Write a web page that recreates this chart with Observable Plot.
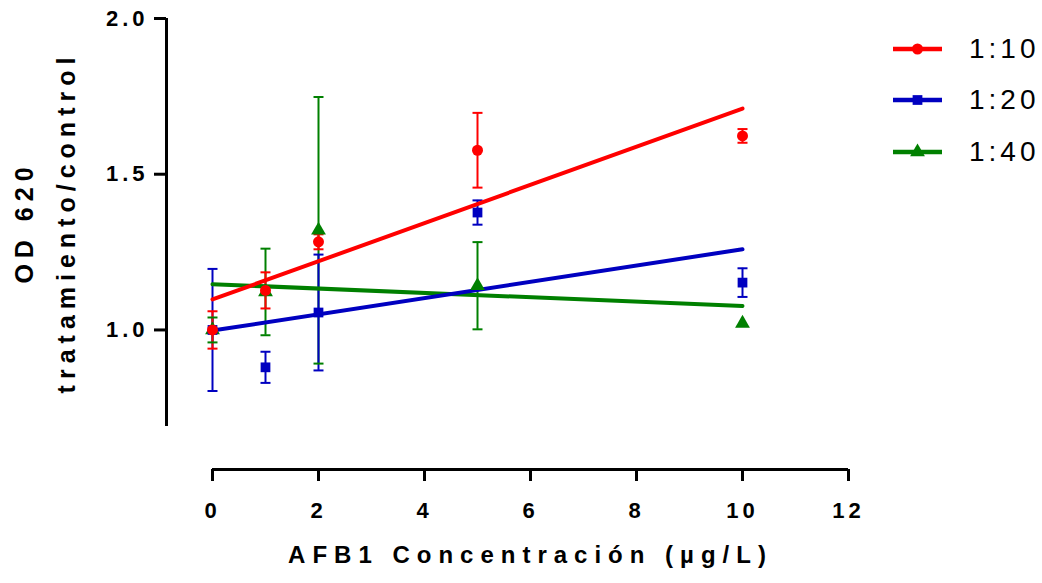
<!DOCTYPE html>
<html><head><meta charset="utf-8">
<script src="https://cdn.jsdelivr.net/npm/d3@7"></script>
<script src="https://cdn.jsdelivr.net/npm/@observablehq/plot@0.6"></script>
<style>
body{margin:0;background:#fff;}
#wrap{position:relative;width:1042px;height:583px;font-family:"Liberation Sans",Arial,sans-serif;}
#wrap svg{overflow:visible;}
g[aria-label="x-axis tick label"] text, g[aria-label="y-axis tick label"] text{letter-spacing:4px;}
#legend{position:absolute;left:893px;top:23px;}
.row{display:flex;align-items:center;height:51.5px;}
.row span{font-size:28px;letter-spacing:4px;margin-left:27px;color:#000;line-height:1;}
</style></head><body><div id="wrap"></div>
<script>
// ---- data ----
const concentrations = [0, 1, 2, 5, 10];
const seriesNames = ["1:10", "1:20", "1:40"];
const seriesColors = ["#ff0000", "#0000c0", "#008000"];
const seriesSymbols = ["circle", "square", "triangle"];

const mean_1_10 = [1.0, 1.127, 1.283, 1.577, 1.623];
const sd_1_10   = [0.06, 0.058, 0.024, 0.12, 0.022];
const mean_1_20 = [1.0, 0.88, 1.056, 1.377, 1.152];
const sd_1_20   = [0.196, 0.05, 0.186, 0.039, 0.046];
const mean_1_40 = [1.0, 1.122, 1.32, 1.142, 1.021];
const sd_1_40   = [0.04, 0.139, 0.428, 0.14, 0.0];

// fitted regression lines (values at x = 0 and x = 10)
const fitX = [0, 10];
const fit_1_10 = [1.098, 1.711];
const fit_1_20 = [0.998, 1.259];
const fit_1_40 = [1.147, 1.077];

const xTicks = [0, 2, 4, 6, 8, 10, 12];
const yTicks = [1.0, 1.5, 2.0];
const xDomain = [0, 12];
const yDomain = [0.69, 2.0];
const xTitle = "AFB1 Concentración (µg/L)";
const yTitle = ["OD 620", "tratamiento/control"];

// ---- build tables ----
const means = [mean_1_10, mean_1_20, mean_1_40];
const sds = [sd_1_10, sd_1_20, sd_1_40];
const fits = [fit_1_10, fit_1_20, fit_1_40];
const points = [];
seriesNames.forEach((s, i) => concentrations.forEach((x, j) =>
  points.push({series: s, x, mean: means[i][j], sd: sds[i][j]})));
const fitRows = [];
seriesNames.forEach((s, i) => fitX.forEach((x, j) => fitRows.push({series: s, x, y: fits[i][j]})));
const bars = points.filter(d => d.sd > 0);
// draw order: 1:40 below, 1:10 on top
const order = d => -seriesNames.indexOf(d.series);
const sortBy = arr => arr.slice().sort((a, b) => order(a) - order(b));

const capSymbol = {draw(ctx, size) { const r = Math.sqrt(size / Math.PI); ctx.moveTo(-r, 0); ctx.lineTo(r, 0); }};

const svg = Plot.plot({
  width: 1042, height: 583,
  marginLeft: 212, marginRight: 194, marginTop: 18, marginBottom: 157,
  style: {fontFamily: "'Liberation Sans', Arial, sans-serif", color: "#000", background: "#fff"},
  x: {domain: xDomain},
  y: {domain: yDomain},
  color: {domain: seriesNames, range: seriesColors},
  symbol: {domain: seriesNames, range: seriesSymbols},
  marks: [
    Plot.ruleY([yDomain[0]], {x1: xDomain[0], x2: xDomain[1], dy: 43, strokeWidth: 3, stroke: "#000"}),
    Plot.ruleX([xDomain[0]], {y1: yDomain[0], y2: yDomain[1], dx: -46, strokeWidth: 3, stroke: "#000"}),
    Plot.axisX({ticks: xTicks, tickSize: 12, tickPadding: 21, dy: 43, strokeWidth: 3, fontSize: 22, fontWeight: "bold", label: null, tickFormat: d => String(d)}),
    Plot.axisY({ticks: yTicks, tickSize: 12, tickPadding: 6, dx: -46, strokeWidth: 3, fontSize: 22, fontWeight: "bold", label: null, tickFormat: d3.format(".1f")}),
    Plot.ruleX(sortBy(bars), {x: "x", y1: d => d.mean - d.sd, y2: d => d.mean + d.sd, stroke: "series", strokeWidth: 2}),
    Plot.dot(sortBy(bars), {x: "x", y: d => d.mean - d.sd, symbol: capSymbol, r: 5, stroke: "series", fill: "none", strokeWidth: 2}),
    Plot.dot(sortBy(bars), {x: "x", y: d => d.mean + d.sd, symbol: capSymbol, r: 5, stroke: "series", fill: "none", strokeWidth: 2}),
    Plot.line(sortBy(fitRows), {x: "x", y: "y", z: "series", stroke: "series", strokeWidth: 4}),
    Plot.dot(sortBy(points), {x: "x", y: "mean", symbol: "series", fill: "series", r: 5.5}),
    Plot.text([yTitle.join("\n")], {frameAnchor: "left", dx: -172, rotate: -90, fontSize: 25, fontWeight: "bold", lineHeight: 1.68, textAnchor: "middle", lineAnchor: "middle", fill: "#000"}),
    Plot.text([xTitle], {frameAnchor: "bottom", dy: 136, fontSize: 24, fontWeight: "bold", fill: "#000"})
  ]
});
const wrap = document.getElementById("wrap");
wrap.appendChild(svg);
// letter spacing of the two titles (the two plain text marks, in order)
const titleGroups = svg.querySelectorAll('g[aria-label="text"]');
if (titleGroups[0]) titleGroups[0].style.letterSpacing = "6px";
if (titleGroups[1]) titleGroups[1].style.letterSpacing = "7px";

// legend
const legend = d3.select(wrap).append("div").attr("id", "legend");
seriesNames.forEach((s, i) => {
  const row = legend.append("div").attr("class", "row");
  const sw = row.append("svg").attr("width", 49).attr("height", 16);
  sw.append("line").attr("x1", 0).attr("x2", 49).attr("y1", 8).attr("y2", 8)
    .attr("stroke", seriesColors[i]).attr("stroke-width", 4.5);
  const sym = {circle: d3.symbolCircle, square: d3.symbolSquare, triangle: d3.symbolTriangle}[seriesSymbols[i]];
  sw.append("path").attr("transform", "translate(24.5,8)")
    .attr("d", d3.symbol(sym, 5.5 * 5.5 * Math.PI)()).attr("fill", seriesColors[i]);
  row.append("span").text(s);
});
</script></body></html>
